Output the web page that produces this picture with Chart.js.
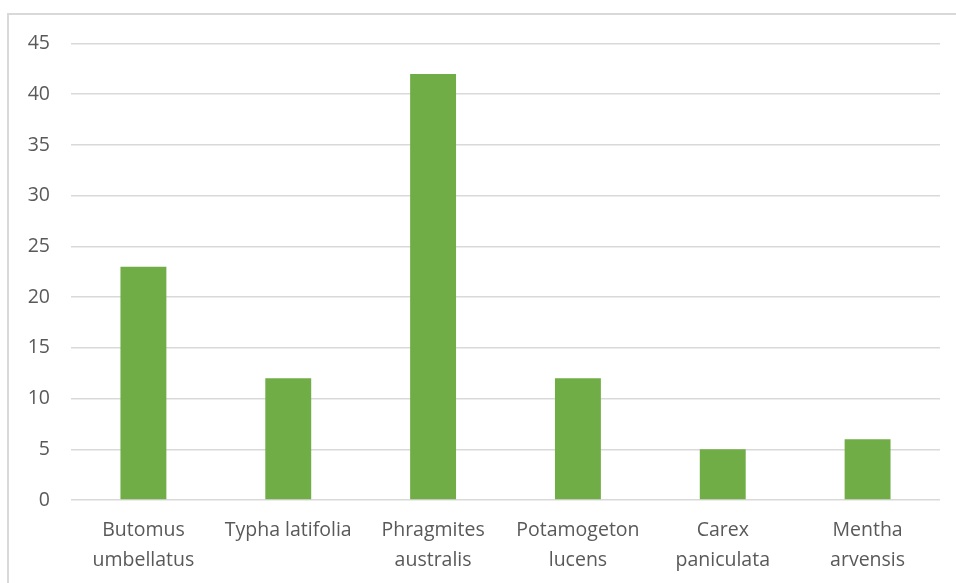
<!DOCTYPE html>
<html>
<head>
<meta charset="utf-8">
<script src="https://cdn.jsdelivr.net/npm/chart.js@4/dist/chart.umd.min.js"></script>
<style>
  html, body { margin: 0; padding: 0; background: #ffffff; }
  #wrap { position: relative; width: 956px; height: 583px; }
</style>
</head>
<body>
<div id="wrap"><canvas id="c" width="956" height="583"></canvas></div>
<script>
// Species (two-line labels) and their counts
const species = [
  ['Butomus', 'umbellatus'],
  'Typha latifolia',
  ['Phragmites', 'australis'],
  ['Potamogeton', 'lucens'],
  ['Carex', 'paniculata'],
  ['Mentha', 'arvensis']
];
const counts = [23, 12, 42, 12, 5, 6];
const yTicks = [0, 5, 10, 15, 20, 25, 30, 35, 40, 45];

// Light frame around the chart, running past the right and bottom edges
const frame = {
  id: 'frame',
  beforeDraw(chart) {
    const ctx = chart.ctx;
    ctx.save();
    ctx.strokeStyle = '#d9d9d9';
    ctx.lineWidth = 2;
    ctx.strokeRect(8, 14, 1200, 1200);
    ctx.restore();
  }
};

const font = { family: "'Open Sans', 'Noto Sans', sans-serif", size: 19.5 };

new Chart(document.getElementById('c'), {
  type: 'bar',
  data: {
    labels: species,
    datasets: [{
      data: counts,
      backgroundColor: '#70ad47',
      borderWidth: 0,
      categoryPercentage: 1,
      barPercentage: 0.317
    }]
  },
  options: {
    responsive: false,
    animation: false,
    devicePixelRatio: 1,
    layout: { padding: { left: 0, right: 16, top: 43.5, bottom: 0 } },
    plugins: { legend: { display: false }, tooltip: { enabled: false } },
    scales: {
      x: {
        grid: { display: false, drawTicks: false },
        border: { display: false },
        ticks: { color: '#595959', font: { ...font, lineHeight: 1.52 }, padding: 16, maxRotation: 0, autoSkip: false },
        afterFit(scale) { scale.height = 83; }
      },
      y: {
        min: 0,
        max: 45,
        afterBuildTicks(scale) { scale.ticks = yTicks.map(v => ({ value: v })); },
        grid: { color: '#d9d9d9', lineWidth: 1.5, drawTicks: false },
        border: { display: false },
        ticks: { color: '#595959', font, padding: 21 },
        afterFit(scale) { scale.width = 71; }
      }
    }
  },
  plugins: [frame]
});
</script>
</body>
</html>
